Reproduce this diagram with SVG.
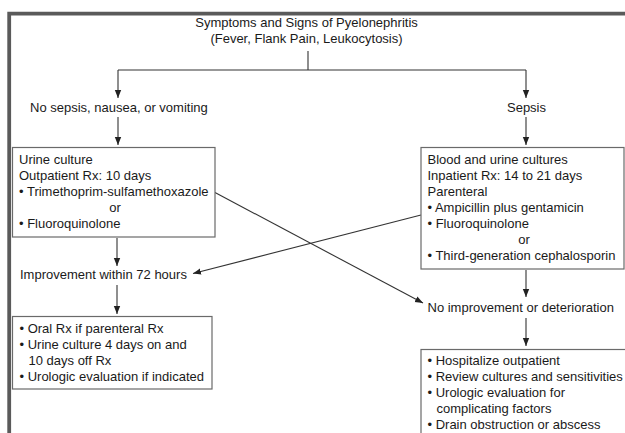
<svg xmlns="http://www.w3.org/2000/svg" width="625" height="433" viewBox="0 0 625 433">
<style>
text{font-family:"Liberation Sans",Arial,sans-serif;font-size:13px;fill:#1a1a1a}
.c{text-anchor:middle}
.box{fill:#fff;stroke:#6a6a6a;stroke-width:1.2}
.ln{fill:none;stroke:#333;stroke-width:1.1}
</style>
<defs>
<marker id="ah" viewBox="0 0 10 10" refX="10" refY="5" markerWidth="8" markerHeight="8" markerUnits="userSpaceOnUse" orient="auto">
<path d="M0,1 L10,5 L0,9 Z" fill="#222"/>
</marker>
</defs>
<rect width="625" height="433" fill="#fff"/>
<path d="M9.2,433 V13.6 H625" fill="none" stroke="#5a5a5a" stroke-width="3.8"/>
<g id="connectors">
<path class="ln" d="M308,51 V70 M118,70 H526"/>
<path class="ln" d="M118,70 V98" marker-end="url(#ah)"/>
<path class="ln" d="M526,70 V98" marker-end="url(#ah)"/>
<path class="ln" d="M118,117 V145" marker-end="url(#ah)"/>
<path class="ln" d="M526,117 V145" marker-end="url(#ah)"/>
<path class="ln" d="M117,238 V266" marker-end="url(#ah)"/>
<path class="ln" d="M117,285 V314" marker-end="url(#ah)"/>
<path class="ln" d="M526,270 V297" marker-end="url(#ah)"/>
<path class="ln" d="M526,318 V346" marker-end="url(#ah)"/>
<path class="ln" d="M421,215 L193,273.5" marker-end="url(#ah)"/>
<path class="ln" d="M215,192.5 L423,303" marker-end="url(#ah)"/>
</g>
<g id="title">
<text class="c" x="306.5" y="27">Symptoms and Signs of Pyelonephritis</text>
<text class="c" x="306.5" y="43">(Fever, Flank Pain, Leukocytosis)</text>
</g>
<g id="no-sepsis"><text x="30" y="112">No sepsis, nausea, or vomiting</text></g>
<g id="sepsis"><text class="c" x="526.5" y="112">Sepsis</text></g>
<g id="outpatient">
<rect class="box" x="12.5" y="147.5" width="202.5" height="89.5"/>
<text x="19" y="164">Urine culture</text>
<text x="19" y="180">Outpatient Rx: 10 days</text>
<text x="19" y="196">• Trimethoprim-sulfamethoxazole</text>
<text class="c" x="115" y="212">or</text>
<text x="19" y="228">• Fluoroquinolone</text>
</g>
<g id="inpatient">
<rect class="box" x="421" y="147.5" width="203" height="121.5"/>
<text x="427.5" y="163.5">Blood and urine cultures</text>
<text x="427.5" y="179.5">Inpatient Rx: 14 to 21 days</text>
<text x="427.5" y="195.5">Parenteral</text>
<text x="427.5" y="211.5">• Ampicillin plus gentamicin</text>
<text x="427.5" y="227.5">• Fluoroquinolone</text>
<text class="c" x="524" y="243.5">or</text>
<text x="427.5" y="259.5">• Third-generation cephalosporin</text>
</g>
<g id="improvement"><text x="20" y="279">Improvement within 72 hours</text></g>
<g id="no-improvement"><text x="427.5" y="312">No improvement or deterioration</text></g>
<g id="improve-actions">
<rect class="box" x="12.5" y="316.5" width="199.5" height="72.5"/>
<text x="19.5" y="333">• Oral Rx if parenteral Rx</text>
<text x="19.5" y="349">• Urine culture 4 days on and</text>
<text x="28.5" y="365">10 days off Rx</text>
<text x="19.5" y="381">• Urologic evaluation if indicated</text>
</g>
<g id="worse-actions">
<rect class="box" x="421" y="349.5" width="220" height="100"/>
<text x="427.5" y="364.5">• Hospitalize outpatient</text>
<text x="427.5" y="380.5">• Review cultures and sensitivities</text>
<text x="427.5" y="396.5">• Urologic evaluation for</text>
<text x="436.5" y="412.5">complicating factors</text>
<text x="427.5" y="428.5">• Drain obstruction or abscess</text>
</g>
</svg>
